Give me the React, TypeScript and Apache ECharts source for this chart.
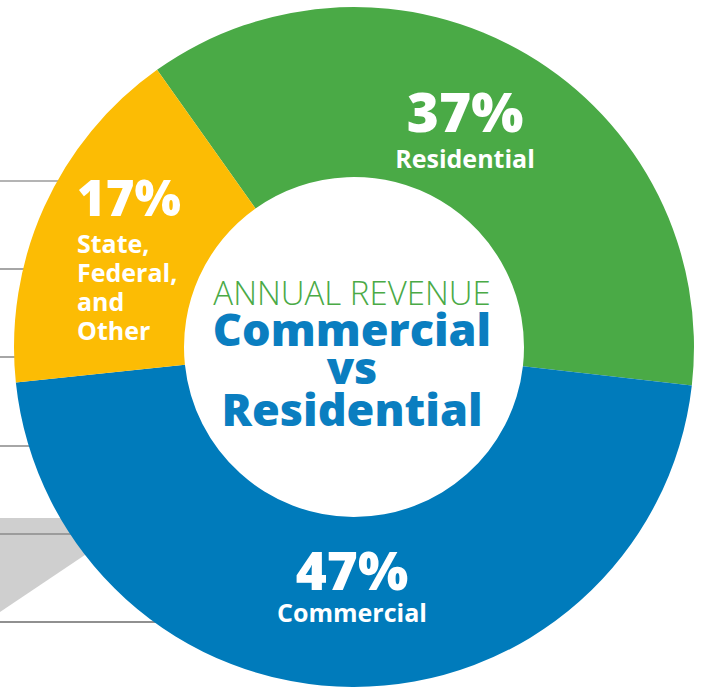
import React, { useEffect, useRef } from "react";
import * as echarts from "echarts";

const categories = ["Residential", "Commercial", "State,\nFederal,\nand\nOther"];
const values = [37, 47, 17];
const titleLines = ["ANNUAL REVENUE", "Commercial", "vs", "Residential"];
const guideLineYs = [181, 269, 357, 446, 534, 622];

const sliceColors = ["#4AAA46", "#007BBB", "#FCBC04"];
const labelPositions = [
  { x: 465, y: 80, align: "center", verticalAlign: "top" },
  { x: 352, y: 543, align: "center", verticalAlign: "top" },
  { x: 77, y: 166, align: "left", verticalAlign: "top" },
];
const labelRich = [
  { p: 55, pl: 60, n: 25, nl: 36 },
  { p: 53, pl: 52, n: 25, nl: 34 },
  { p: 49, pl: 62, n: 25, nl: 29 },
];

const FONT = "'Open Sans'";
const CX = 354;
const CY = 347;
const R_OUT = 340;

export default function App() {
  const ref = useRef<HTMLDivElement>(null);
  useEffect(() => {
    document.body.style.margin = "0";
    const chart = echarts.init(ref.current!, null, { renderer: "svg" });
    const graphics: any[] = [];
    guideLineYs.forEach((y, i) => {
      const dy = y - CY;
      const x2 = CX - Math.sqrt(Math.max(0, R_OUT * R_OUT - dy * dy)) + 2;
      graphics.push({
        type: "line",
        z: -10,
        shape: { x1: 0, y1: y, x2, y2: y },
        style: { stroke: i === guideLineYs.length - 1 ? "#222" : "#6b6b6b", lineWidth: 1.2 },
      });
    });
    graphics.push({
      type: "polygon",
      z: -11,
      shape: { points: [[0, 518], [140, 518], [0, 612]] },
      style: { fill: "#cfcfcf" },
    });
    const titleStyles = [
      { y: 292, size: 33, weight: 300, color: "#4AAA46" },
      { y: 328, size: 45, weight: 800, color: "#0A7EC0" },
      { y: 366, size: 45, weight: 800, color: "#0A7EC0" },
      { y: 408, size: 45, weight: 800, color: "#0A7EC0" },
    ];
    titleLines.forEach((t, i) => {
      const s = titleStyles[i];
      graphics.push({
        type: "text",
        z: 10,
        x: 352,
        y: s.y,
        style: {
          text: t,
          fill: s.color,
          font: `${s.weight} ${s.size}px ${FONT}`,
          textAlign: "center",
          textVerticalAlign: "middle",
        },
      });
    });

    chart.setOption({
      animation: false,
      graphic: graphics,
      series: [
        {
          type: "pie",
          center: [CX, CY],
          radius: [170, R_OUT],
          startAngle: 125.4,
          clockwise: true,
          avoidLabelOverlap: false,
          labelLine: { show: false },
          emphasis: { disabled: true },
          labelLayout: (params: any) => labelPositions[params.dataIndex],
          data: values.map((v, i) => {
            const r = labelRich[i];
            const nameLines = categories[i].split("\n");
            return {
              value: v,
              name: categories[i],
              itemStyle: { color: sliceColors[i] },
              label: {
                show: true,
                position: "inside",
                formatter: [`{p|${v}%}`, ...nameLines.map((n) => `{n|${n}}`)].join("\n"),
                align: labelPositions[i].align,
                rich: {
                  p: {
                    fontFamily: FONT,
                    fontWeight: 800,
                    fontSize: r.p,
                    lineHeight: r.pl,
                    color: "#fff",
                    align: labelPositions[i].align,
                  },
                  n: {
                    fontFamily: FONT,
                    fontWeight: 700,
                    fontSize: r.n,
                    lineHeight: r.nl,
                    color: "#fff",
                    align: labelPositions[i].align,
                  },
                },
              },
            };
          }),
        },
      ],
    });
    return () => chart.dispose();
  }, []);
  return (
    <div
      ref={ref}
      style={{ position: "absolute", left: 0, top: 0, width: 702, height: 688 }}
    />
  );
}
